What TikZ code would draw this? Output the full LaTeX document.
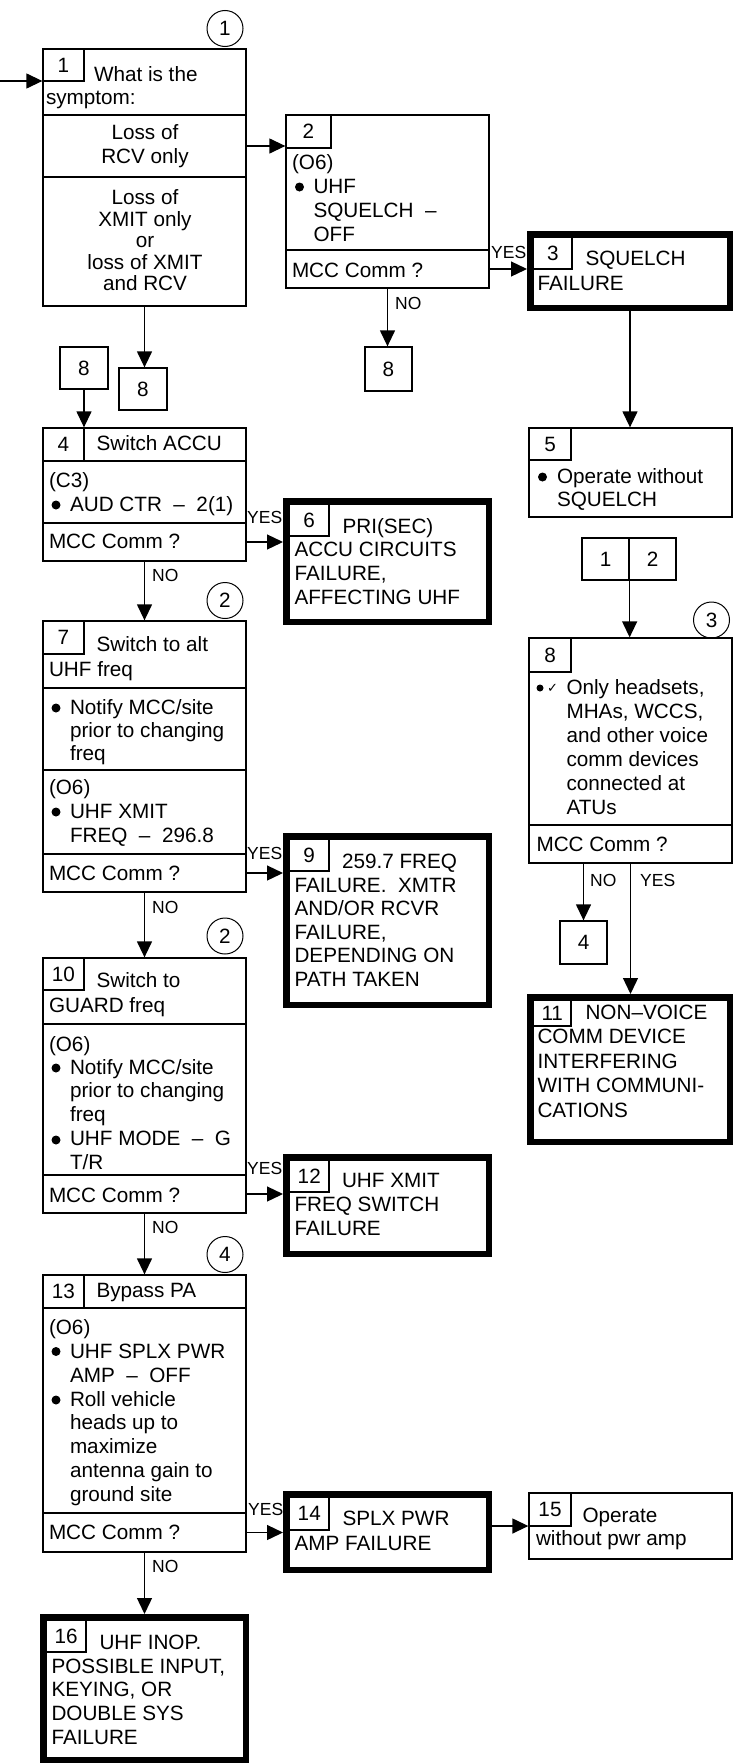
\documentclass[tikz,border=0pt]{standalone}
\usepackage{fontspec}
\setmainfont{Liberation Sans}
\newfontfamily\djv{DejaVu Sans}
\usetikzlibrary{arrows.meta,fit}
\newcommand\fsz[1]{\fontsize{20.7}{#1}\selectfont}
\newcommand\st{\rule{0pt}{16pt}}
\begin{document}
\begin{tikzpicture}[x=1pt,y=-1pt,
 bx/.style={draw,line width=1.3pt,inner sep=0pt,font=\fsz{24}},
 cell/.style={draw,line width=1.3pt,inner sep=0pt,font=\fsz{24},rectangle},
 tbx/.style={draw,line width=6.5pt,inner sep=0pt},
 tx/.style={anchor=north west,inner sep=0pt,outer sep=0pt,align=left,yshift=16pt,font=\fsz{#1},execute at begin node=\st},
 tx/.default=23.5,
 txc/.style={tx=#1,anchor=north,align=center},
 txc/.default=23.5,
 lab/.style={anchor=base west,inner sep=0pt,font=\fontsize{17.5}{20}\selectfont},
 arr/.style={line width=1.3pt,-{Triangle[length=16pt,width=15pt]}},
 circ/.style={circle,draw,line width=1pt,minimum size=36pt,inner sep=0pt,font=\fsz{24}}
]
\useasboundingbox (0,0) rectangle (733,1764);
% circles
\node[circ] (c1) at (225,28.5) {1};
\node[circ] (c2a) at (225,600.5) {2};
\node[circ] (c2b) at (225,936) {2};
\node[circ] (c3) at (711.5,620) {3};
\node[circ] (c4) at (225,1254.5) {4};
% Box 1
\node[bx,fit={(43,49)(246,115)}] (b1h) {};
\node[bx,fit={(43,115)(246,177)}] (b1a) {};
\node[bx,fit={(43,177)(246,306)}] (b1b) {};
\node[cell,minimum width=41pt,minimum height=32pt] (b1n) at (63.5,65) {\raisebox{-4pt}{1}};
\node[tx] (t1a) at (94,81) {What is the};
\node[tx] (t1b) at (46,104) {symptom:};
\node[txc=24] (t1c) at (145,141) {Loss of\\RCV only};
\node[txc=21.5] (t1d) at (145,206) {Loss of\\XMIT only\\or\\loss of XMIT\\and RCV};
% Box 2
\node[bx,fit={(286,115)(489,250)}] (b2t) {};
\node[bx,fit={(286,250)(489,288)}] (b2m) {};
\node[cell,minimum width=45pt,minimum height=33pt] (b2n) at (308.5,131.5) {2};
\node[tx=24] (t2a) at (292,170) {(O6)\\\hspace*{21.5pt}UHF\\\hspace*{21.5pt}SQUELCH~~–\\\hspace*{21.5pt}OFF};
\fill (299.5,187) circle (4.5pt);
\node[tx] (t2m) at (292,277) {MCC Comm ?};
% Box 3
\node[tbx,fit={(530.25,234.25)(729.75,307.75)}] (b3) {};
\node[cell,minimum width=38.5pt,minimum height=31.5pt] (b3n) at (552.75,253.25) {3};
\node[tx=25] (t3) at (537.5,267) {\hspace*{48pt}SQUELCH\\FAILURE};
% Box 4
\node[bx,fit={(43,428)(246,461)}] (b4h) {};
\node[bx,fit={(43,461)(246,523)}] (b4b) {};
\node[bx,fit={(43,523)(246,561)}] (b4m) {};
\node[cell,minimum width=41pt,minimum height=33pt] (b4n) at (63.5,444.5) {4};
\node[tx] (t4h) at (96.5,450) {Switch ACCU};
\node[tx=24] (t4b) at (49,488) {(C3)\\\hspace*{21pt}AUD CTR~~–~~2(1)};
\fill (56,505) circle (4.5pt);
\node[tx] (t4m) at (49,548) {MCC Comm ?};
% Box 5
\node[bx,fit={(529,428)(732,517)}] (b5) {};
\node[cell,minimum width=42pt,minimum height=32pt] (b5n) at (550,444) {5};
\fill (542.5,477) circle (4.5pt);
\node[tx] (t5) at (557,484) {Operate without\\SQUELCH};
% Box 6
\node[tbx,fit={(286.25,501.25)(488.75,621.75)}] (b6) {};
\node[cell,minimum width=39.5pt,minimum height=31.5pt] (b6n) at (309.25,520.25) {6};
\node[tx=23.7] (t6) at (294.5,534) {\hspace*{48pt}PRI(SEC)\\ACCU CIRCUITS\\FAILURE,\\AFFECTING UHF};
% Box 7
\node[bx,fit={(43,621)(246,688)}] (b7h) {};
\node[bx,fit={(43,688)(246,770)}] (b7a) {};
\node[bx,fit={(43,770)(246,854)}] (b7b) {};
\node[bx,fit={(43,854)(246,892)}] (b7m) {};
\node[cell,minimum width=41pt,minimum height=33pt] (b7n) at (63.5,637.5) {7};
\node[tx=25] (t7h) at (49,652) {\hspace*{47.5pt}Switch to alt\\UHF freq};
\fill (56,708) circle (4.5pt);
\node[tx=23.3] (t7a) at (70,715) {Notify MCC/site\\prior to changing\\freq};
\node[tx=24] (t7b) at (49,795) {(O6)\\\hspace*{21pt}UHF XMIT\\\hspace*{21pt}FREQ~~–~~296.8};
\fill (56,812) circle (4.5pt);
\node[tx] (t7m) at (49,880) {MCC Comm ?};
% Box 8
\node[bx,fit={(529,638)(732,825)}] (b8t) {};
\node[bx,fit={(529,825)(732,863)}] (b8m) {};
\node[cell,minimum width=42pt,minimum height=34pt] (b8n) at (550,655) {8};
\fill (540,688) circle (3.5pt);
\node[lab,font=\djv\fontsize{13}{13}\selectfont] (ck) at (547,692) {✓};
\node[tx=24] (t8) at (566.5,695) {Only headsets,\\MHAs, WCCS,\\and other voice\\comm devices\\connected at\\ATUs};
\node[tx] (t8m) at (536.5,851) {MCC Comm ?};
% Box 9
\node[tbx,fit={(286.25,836.25)(488.75,1004.75)}] (b9) {};
\node[cell,minimum width=39.5pt,minimum height=31.5pt] (b9n) at (309.25,855.25) {9};
\node[tx=23.6] (t9) at (294.5,870) {\hspace*{47.5pt}259.7 FREQ\\FAILURE.~~XMTR\\AND/OR RCVR\\FAILURE,\\DEPENDING ON\\PATH TAKEN};
% Box 10
\node[bx,fit={(43,958)(246,1024)}] (b10h) {};
\node[bx,fit={(43,1024)(246,1175)}] (b10b) {};
\node[bx,fit={(43,1175)(246,1213)}] (b10m) {};
\node[cell,minimum width=41pt,minimum height=32pt] (b10n) at (63.5,974) {10};
\node[tx=25] (t10h) at (49,988) {\hspace*{47.5pt}Switch to\\GUARD freq};
\node[tx] (t10o) at (49,1051) {(O6)};
\fill (56,1068) circle (4.5pt);
\node[tx=23.75] (t10a) at (70,1075) {Notify MCC/site\\prior to changing\\freq\\UHF MODE~~–~~G\\T/R};
\fill (56,1140) circle (4.5pt);
\node[tx] (t10m) at (49,1202) {MCC Comm ?};
% Box 11
\node[tbx,fit={(530.25,997.25)(729.75,1141.75)}] (b11) {};
\node[cell,minimum width=37.5pt,minimum height=25.5pt] (b11n) at (552.25,1013.25) {11};
\node[tx=24.5] (t11) at (537.5,1021) {\hspace*{48pt}NON–VOICE\\COMM DEVICE\\INTERFERING\\WITH COMMUNI-\\CATIONS};
% Box 12
\node[tbx,fit={(286.25,1157.25)(488.75,1253.75)}] (b12) {};
\node[cell,minimum width=39.5pt,minimum height=31.5pt] (b12n) at (309.25,1176.25) {12};
\node[tx=24] (t12) at (294.5,1189) {\hspace*{47.5pt}UHF XMIT\\FREQ SWITCH\\FAILURE};
% Box 13
\node[bx,fit={(43,1275)(246,1308)}] (b13h) {};
\node[bx,fit={(43,1308)(246,1513)}] (b13b) {};
\node[bx,fit={(43,1513)(246,1552)}] (b13m) {};
\node[cell,minimum width=41pt,minimum height=33pt] (b13n) at (63.5,1291.5) {13};
\node[tx] (t13h) at (96.5,1297) {Bypass PA};
\node[tx=24] (t13a) at (49,1335) {(O6)\\\hspace*{21pt}UHF SPLX PWR\\\hspace*{21pt}AMP~~–~~OFF};
\fill (56,1351.5) circle (4.5pt);
\fill (56,1400) circle (4.5pt);
\node[tx=23.75] (t13b) at (70,1407) {Roll vehicle\\heads up to\\maximize\\antenna gain to\\ground site};
\node[tx] (t13m) at (49,1539) {MCC Comm ?};
% Box 14
\node[tbx,fit={(286.25,1494.25)(488.75,1569.75)}] (b14) {};
\node[cell,minimum width=39.5pt,minimum height=32.5pt] (b14n) at (309.25,1513.75) {14};
\node[tx=25] (t14) at (294.5,1527) {\hspace*{48pt}SPLX PWR\\AMP FAILURE};
% Box 15
\node[bx,fit={(529,1493)(732,1559)}] (b15) {};
\node[cell,minimum width=42pt,minimum height=33pt] (b15n) at (550,1509.5) {15};
\node[tx=23] (t15) at (536,1524) {\hspace*{46.5pt}Operate\\without pwr amp};
% Box 16
\node[tbx,fit={(43.25,1617.25)(245.75,1759.75)}] (b16) {};
\node[cell,minimum width=39.5pt,minimum height=31.5pt] (b16n) at (66.25,1636.25) {16};
\node[tx=23.75] (t16) at (51.5,1651) {\hspace*{48pt}UHF INOP.\\POSSIBLE INPUT,\\KEYING, OR\\DOUBLE SYS\\FAILURE};
% off-page connector boxes
\node[cell,minimum width=48pt,minimum height=42pt] (o8a) at (84,368) {8};
\node[cell,minimum width=48pt,minimum height=42pt] (o8b) at (143,389) {8};
\node[cell,minimum width=47pt,minimum height=44pt] (o8c) at (388.5,369) {8};
\node[cell,minimum width=47pt,minimum height=42pt] (o1) at (605.5,559) {1};
\node[cell,minimum width=47pt,minimum height=42pt] (o2) at (652.5,559) {2};
\node[cell,minimum width=47pt,minimum height=43pt] (o4) at (583.5,942.5) {4};
% connectors
\coordinate (start) at (0,81);
\draw[arr] (start) -- (start -| b1h.west);
\draw[arr] (b1a.east) -- (b1a.east -| b2t.west);
\draw[arr] (b1b.south) -- (b1b.south |- o8b.north);
\draw[arr] (o8a.south) -- (o8a.south |- b4h.north);
\draw[arr] (b2m.east) -- (b2m.east -| b3.west);
\draw[arr] (b2m.south) -- (b2m.south |- o8c.north);
\draw[arr] (b3.south) -- (b3.south |- b5.north);
\draw[arr] (b4m.east) -- (b4m.east -| b6.west);
\draw[arr] (b4m.south) -- (b4m.south |- b7h.north);
\draw[arr] (b7m.east) -- (b7m.east -| b9.west);
\draw[arr] (b7m.south) -- (b7m.south |- b10h.north);
\draw[arr] (b10m.east) -- (b10m.east -| b12.west);
\draw[arr] (b10m.south) -- (b10m.south |- b13h.north);
\draw[arr] (b13m.east) -- (b13m.east -| b14.west);
\draw[arr] (b13m.south) -- (b13m.south |- b16.north);
\draw[arr] (b14.east |- b15.west) -- (b15.west);
\draw[arr] (o1.south east) -- (o1.south east |- b8t.north);
\draw[arr] (o4.north |- b8m.south) -- (o4.north);
\draw[arr] (b8m.south) -- (b8m.south |- b11.north);
% labels
\node[lab] (y2) at (491,258) {YES};
\node[lab] (n2) at (395,309) {NO};
\node[lab] (y4) at (247,523) {YES};
\node[lab] (n4) at (152,581) {NO};
\node[lab] (y7) at (247,859) {YES};
\node[lab] (n7) at (152,913) {NO};
\node[lab] (y10) at (247,1174) {YES};
\node[lab] (n10) at (152,1233) {NO};
\node[lab] (y13) at (248,1515) {YES};
\node[lab] (n13) at (152,1572) {NO};
\node[lab] (n8) at (590,886) {NO};
\node[lab] (y8) at (640,886) {YES};
\end{tikzpicture}
\end{document}
